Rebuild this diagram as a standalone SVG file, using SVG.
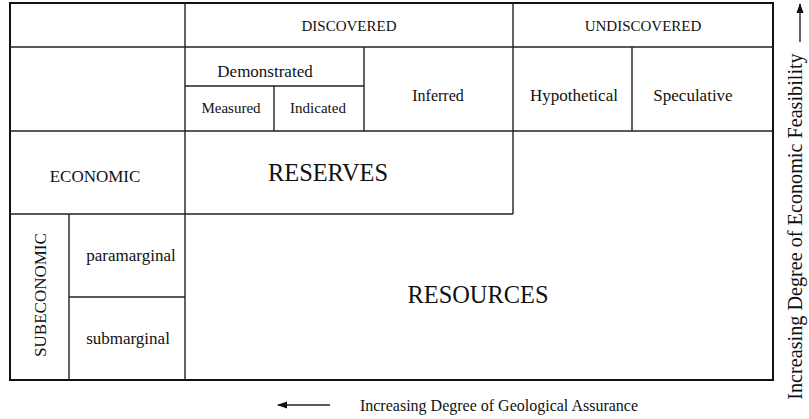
<svg xmlns="http://www.w3.org/2000/svg" width="809" height="419" viewBox="0 0 809 419">
<style>
text{fill:#111;text-anchor:middle;font-family:"Liberation Serif","Times New Roman",serif}
.l{stroke:#222;stroke-width:1.4;fill:none}
.o{stroke:#111;stroke-width:2;fill:none}
.s15{font-size:15px}.s17{font-size:17px}.s24{font-size:24.4px}.s16{font-size:16px}.s20{font-size:20.2px}
</style>
<defs>
<marker id="ah" viewBox="0 0 10 10" refX="9" refY="5" markerWidth="10" markerHeight="10" markerUnits="userSpaceOnUse" orient="auto"><path d="M0,1.5 L10,5 L0,8.5 Z" fill="#111"/></marker>
</defs>
<rect width="809" height="419" fill="#fff"/>
<g id="connectors">
<line class="l" x1="330" y1="405" x2="278" y2="405" marker-end="url(#ah)"/>
<line class="l" x1="800" y1="42" x2="800" y2="4" marker-end="url(#ah)"/>
</g>
<g id="frame">
<rect class="o" x="10" y="3" width="763" height="377"/>
<line class="l" x1="10" y1="47" x2="773" y2="47"/>
<line class="l" x1="10" y1="131" x2="773" y2="131"/>
<line class="l" x1="185" y1="3" x2="185" y2="380"/>
<line class="l" x1="513" y1="3" x2="513" y2="214"/>
<line class="l" x1="364" y1="47" x2="364" y2="131"/>
<line class="l" x1="632" y1="47" x2="632" y2="131"/>
<line class="l" x1="185" y1="86" x2="364" y2="86"/>
<line class="l" x1="274" y1="86" x2="274" y2="131"/>
<line class="l" x1="10" y1="214" x2="513" y2="214"/>
<line class="l" x1="69" y1="214" x2="69" y2="380"/>
<line class="l" x1="69" y1="297" x2="185" y2="297"/>
</g>
<g id="discovered"><text class="s15" x="349" y="31">DISCOVERED</text></g>
<g id="undiscovered"><text class="s15" x="643" y="31">UNDISCOVERED</text></g>
<g id="demonstrated"><text class="s17" x="265" y="77">Demonstrated</text></g>
<g id="measured"><text class="s15" x="231" y="113">Measured</text></g>
<g id="indicated"><text class="s15" x="318" y="113">Indicated</text></g>
<g id="inferred"><text class="s16" x="438" y="101">Inferred</text></g>
<g id="hypothetical"><text class="s17" x="574" y="101">Hypothetical</text></g>
<g id="speculative"><text class="s17" x="693" y="101">Speculative</text></g>
<g id="economic"><text class="s17" x="95" y="182">ECONOMIC</text></g>
<g id="reserves"><text class="s24" x="328" y="181">RESERVES</text></g>
<g id="subeconomic"><text class="s17" transform="translate(46,295) rotate(-90)" x="0" y="0">SUBECONOMIC</text></g>
<g id="paramarginal"><text class="s17" x="131" y="261">paramarginal</text></g>
<g id="submarginal"><text class="s17" x="128" y="344">submarginal</text></g>
<g id="resources"><text class="s24" x="478" y="303">RESOURCES</text></g>
<g id="geo-label"><text class="s16" x="499" y="411">Increasing Degree of Geological Assurance</text></g>
<g id="econ-label"><text class="s20" transform="translate(802,226.5) rotate(-90)" x="0" y="0">Increasing Degree of Economic Feasibility</text></g>
</svg>
